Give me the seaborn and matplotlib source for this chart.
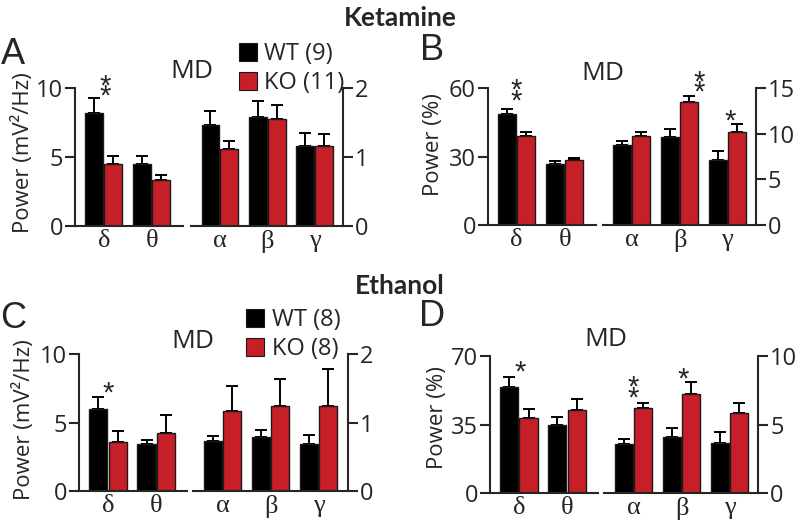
import matplotlib
matplotlib.use("Agg")
import matplotlib.pyplot as plt
from matplotlib.patches import Patch
import seaborn as sns
import pandas as pd
import numpy as np

# bands: low ones on the left axis, high ones on the right axis
low_bands = ['δ', 'θ']
high_bands = ['α', 'β', 'γ']
genotypes = ['WT', 'KO']

# A - ketamine, absolute power (mV²/Hz)
ket_abs_wt_low = [8.16, 4.49]
ket_abs_wt_low_sem = [1.08, 0.57]
ket_abs_ko_low = [4.44, 3.29]
ket_abs_ko_low_sem = [0.57, 0.36]
ket_abs_wt_high = [1.46, 1.58, 1.15]
ket_abs_wt_high_sem = [0.20, 0.22, 0.19]
ket_abs_ko_high = [1.11, 1.545, 1.15]
ket_abs_ko_high_sem = [0.12, 0.205, 0.17]

# B - ketamine, relative power (%)
ket_rel_wt_low = [48.9, 26.6]
ket_rel_wt_low_sem = [1.9, 1.6]
ket_rel_ko_low = [39.1, 28.5]
ket_rel_ko_low_sem = [1.7, 0.9]
ket_rel_wt_high = [8.75, 9.66, 7.13]
ket_rel_wt_high_sem = [0.5, 0.91, 1.03]
ket_rel_ko_high = [9.77, 13.5, 10.2]
ket_rel_ko_high_sem = [0.43, 0.7, 0.85]

# C - ethanol, absolute power (mV²/Hz)
eth_abs_wt_low = [6.0, 3.41]
eth_abs_wt_low_sem = [0.9, 0.3]
eth_abs_ko_low = [3.56, 4.22]
eth_abs_ko_low_sem = [0.83, 1.36]
eth_abs_wt_high = [0.73, 0.79, 0.69]
eth_abs_wt_high_sem = [0.08, 0.10, 0.13]
eth_abs_ko_high = [1.17, 1.25, 1.24]
eth_abs_ko_high_sem = [0.36, 0.39, 0.54]

# D - ethanol, relative power (%)
eth_rel_wt_low = [53.9, 34.9]
eth_rel_wt_low_sem = [5.1, 4.0]
eth_rel_ko_low = [38.4, 42.4]
eth_rel_ko_low_sem = [4.5, 5.7]
eth_rel_wt_high = [3.58, 4.09, 3.65]
eth_rel_wt_high_sem = [0.34, 0.65, 0.8]
eth_rel_ko_high = [6.22, 7.19, 5.83]
eth_rel_ko_high_sem = [0.36, 0.89, 0.71]

# legend labels (n per group)
ket_labels = ['WT (9)', 'KO (11)']
eth_labels = ['WT (8)', 'KO (8)']

colors = {'WT': '#000000', 'KO': '#C71F27'}

sns.set_style("ticks")
plt.rcParams['font.family'] = ['Open Sans', 'DejaVu Sans']
plt.rcParams['axes.linewidth'] = 1.5

W, H = 796, 526
fig = plt.figure(figsize=(W / 100, H / 100), dpi=100)


def rect(x0, x1, ytop, ybot):
    return [x0 / W, 1 - ybot / H, (x1 - x0) / W, (ybot - ytop) / H]


def draw_bars(ax, bands, wt, wt_sem, ko, ko_sem):
    df = pd.DataFrame({
        'band': bands * 2,
        'genotype': ['WT'] * len(bands) + ['KO'] * len(bands),
        'power': wt + ko,
    })
    sns.barplot(data=df, x='band', y='power', hue='genotype', order=bands,
                hue_order=genotypes, palette=colors, saturation=1, errorbar=None,
                width=0.8, gap=0.06, edgecolor='#1a1a1a', linewidth=1.0,
                legend=False, ax=ax)
    # one-sided SEM bars on top
    for cont, sem in zip(ax.containers, [wt_sem, ko_sem]):
        xs = [b.get_x() + b.get_width() / 2 for b in cont]
        hs = [b.get_height() for b in cont]
        ax.errorbar(xs, hs, yerr=[np.zeros(len(sem)), sem], fmt='none',
                    ecolor='black', elinewidth=1.4, capsize=4, capthick=1.4, zorder=0.5)
    ax.set_xlabel('')
    ax.set_ylabel('')
    ax.tick_params(axis='x', length=0, pad=3)
    for lab in ax.get_xticklabels():
        lab.set_family('Liberation Serif')
        lab.set_fontsize(19)


def style_y(ax, ticks, side):
    ax.set_ylim(ticks[0], ticks[-1])
    ax.set_yticks(ticks)
    ax.set_yticklabels([str(t) for t in ticks], fontsize=17)
    ax.tick_params(axis='y', direction='out', length=7, width=1.5, pad=1.5)
    ax.spines['top'].set_visible(False)
    if side == 'left':
        ax.spines['right'].set_visible(False)
    else:
        ax.spines['left'].set_visible(False)
        ax.yaxis.tick_right()


def stars(ax, marks):
    # asterisks stacked vertically, one text per mark
    for x, y, s in marks:
        ax.text(x, y, s, ha='center', va='center', fontsize=21, linespacing=0.21,
                family='Liberation Sans', clip_on=False)


panels = [
    dict(letter='A', left=rect(75, 183, 87.5, 225.7), right=rect(191, 343, 87.5, 225.7),
         low=(ket_abs_wt_low, ket_abs_wt_low_sem, ket_abs_ko_low, ket_abs_ko_low_sem),
         high=(ket_abs_wt_high, ket_abs_wt_high_sem, ket_abs_ko_high, ket_abs_ko_high_sem),
         lt=[0, 5, 10], rt=[0, 1, 2], ylabel='Power (mV²/Hz)',
         low_stars=[(0.03, 9.7, '*\n*')], high_stars=[],
         letter_xy=(13, 54), md_xy=(192, 71), ylab_xy=(23, 153)),
    dict(letter='B', left=rect(487.7, 596, 88.3, 225), right=rect(602.7, 756, 88.3, 225),
         low=(ket_rel_wt_low, ket_rel_wt_low_sem, ket_rel_ko_low, ket_rel_ko_low_sem),
         high=(ket_rel_wt_high, ket_rel_wt_high_sem, ket_rel_ko_high, ket_rel_ko_high_sem),
         lt=[0, 30, 60], rt=[0, 5, 10, 15], ylabel='Power (%)',
         low_stars=[(0.0, 56.5, '*\n*')],
         high_stars=[(1.4, 15.1, '*\n*'), (2.05, 11.4, '*')],
         letter_xy=(432, 50), md_xy=(603, 73), ylab_xy=(434, 145)),
    dict(letter='C', left=rect(79, 187.5, 354.3, 491), right=rect(193, 347.7, 354.3, 491),
         low=(eth_abs_wt_low, eth_abs_wt_low_sem, eth_abs_ko_low, eth_abs_ko_low_sem),
         high=(eth_abs_wt_high, eth_abs_wt_high_sem, eth_abs_ko_high, eth_abs_ko_high_sem),
         lt=[0, 5, 10], rt=[0, 1, 2], ylabel='Power (mV²/Hz)',
         low_stars=[(0.0, 7.1, '*')], high_stars=[],
         letter_xy=(13, 318), md_xy=(193, 341), ylab_xy=(24, 420)),
    dict(letter='D', left=rect(490, 598.3, 355.7, 493.3), right=rect(604.3, 758.3, 355.7, 493.3),
         low=(eth_rel_wt_low, eth_rel_wt_low_sem, eth_rel_ko_low, eth_rel_ko_low_sem),
         high=(eth_rel_wt_high, eth_rel_wt_high_sem, eth_rel_ko_high, eth_rel_ko_high_sem),
         lt=[0, 35, 70], rt=[0, 5, 10], ylabel='Power (%)',
         low_stars=[(0.03, 61.5, '*')],
         high_stars=[(0.0, 7.3, '*\n*'), (1.03, 8.3, '*')],
         letter_xy=(432, 316), md_xy=(606, 340), ylab_xy=(438, 418)),
]

for p in panels:
    axl = fig.add_axes(p['left'])
    axr = fig.add_axes(p['right'])
    draw_bars(axl, low_bands, *[list(v) for v in p['low']])
    draw_bars(axr, high_bands, *[list(v) for v in p['high']])
    style_y(axl, p['lt'], 'left')
    style_y(axr, p['rt'], 'right')
    axl.set_xlim(-0.6, 1.65)
    axr.set_xlim(-0.61, 2.6)
    stars(axl, p['low_stars'])
    stars(axr, p['high_stars'])

    fig.text(p['letter_xy'][0] / W, 1 - p['letter_xy'][1] / H, p['letter'],
             ha='center', va='center', fontsize=26, family='Liberation Sans')
    fig.text(p['md_xy'][0] / W, 1 - p['md_xy'][1] / H, 'MD',
             ha='center', va='center', fontsize=19)
    fig.text(p['ylab_xy'][0] / W, 1 - p['ylab_xy'][1] / H, p['ylabel'],
             ha='center', va='center', rotation=90, fontsize=16)

# legends
for labels, xy in [(ket_labels, (239, 42)), (eth_labels, (246, 308))]:
    handles = [Patch(facecolor=colors[g], edgecolor='#1a1a1a', linewidth=0.8) for g in genotypes]
    fig.legend(handles, labels, loc='upper left', bbox_to_anchor=(xy[0] / W, 1 - xy[1] / H),
               frameon=False, fontsize=17, handlelength=0.78, handleheight=0.78,
               handletextpad=0.3, labelspacing=0.22, borderpad=0, borderaxespad=0)

# drug titles
fig.text(400 / W, 1 - 18 / H, 'Ketamine', ha='center', va='center',
         fontsize=19, fontweight='bold', family='Lato')
fig.text(400 / W, 1 - 286 / H, 'Ethanol', ha='center', va='center',
         fontsize=19, fontweight='bold', family='Lato')

fig.savefig('out.png', dpi=100)
